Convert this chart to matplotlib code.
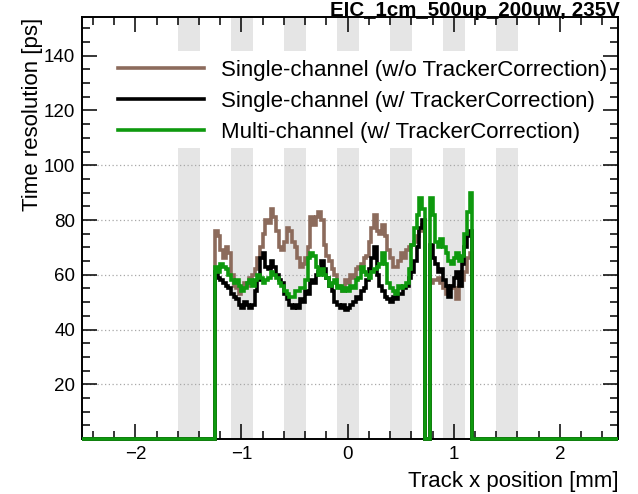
import numpy as np
import matplotlib.pyplot as plt
from matplotlib.patches import Rectangle
from matplotlib.ticker import MultipleLocator

plt.rcParams['font.family'] = ['Liberation Sans', 'DejaVu Sans']

# --- Histogram binning (track x position in mm) ---
X_MIN, X_MAX = -2.5, 2.55
BIN_WIDTH = 0.025
FIRST_BIN = -1.25  # left edge of first filled bin

# Time resolution per bin [ps], starting at FIRST_BIN (0 = empty bin)
single_no_corr = [
    76, 74, 69, 66, 70, 68, 60, 56, 55, 53, 55, 57, 56, 59, 60, 62, 66, 70, 75, 80, 79, 84, 81, 76,
    70, 69, 72, 77, 76, 72, 70, 66, 63, 64, 66, 70, 81, 78, 81, 83, 80, 71, 67, 65, 62, 60, 56, 55, 54, 58, 57,
    60, 59, 62, 63, 64, 66, 67, 72, 77, 82, 76, 75, 78, 74, 69, 66, 63, 63, 65, 68, 66, 69, 70,
    71, 72, 74, 76, 78,
    0, 0,
    57, 58, 58, 59, 57, 55, 53, 56, 55, 55, 51, 56, 58, 61, 66, 68,
]
single_corr = [
    61, 59, 58, 57, 56, 55, 53, 52, 51, 49, 48, 50, 49, 48, 49, 54, 58, 66, 68, 63, 62, 65, 63, 60,
    58, 57, 53, 51, 49, 48, 49, 48, 51, 50, 54, 53, 58, 57, 60, 61, 65, 62, 59, 56, 54, 50, 49, 48, 49, 47, 48,
    49, 50, 52, 51, 54, 55, 58, 62, 66, 70, 60, 56, 54, 52, 51, 50, 52, 51, 53, 53, 55, 56, 59,
    61, 65, 70, 77, 80,
    0, 0,
    71, 66, 64, 61, 62, 58, 56, 52, 56, 59, 61, 56, 64, 70, 74, 76,
]
multi_corr = [
    63, 61, 64, 63, 62, 60, 58, 57, 58, 56, 54, 55, 57, 58, 56, 58, 60, 59, 57, 58, 59, 61, 60, 59,
    57, 56, 54, 53, 52, 52, 54, 54, 55, 55, 58, 66, 68, 67, 63, 60, 62, 60, 59, 56, 57, 58, 55, 56, 54, 55, 54,
    56, 55, 58, 59, 63, 61, 60, 59, 61, 62, 63, 64, 68, 64, 57, 55, 54, 53, 56, 55, 56, 57, 62,
    71, 77, 82, 88, 84,
    0, 0,
    88, 82, 72, 70, 73, 70, 68, 65, 64, 66, 68, 65, 67, 75, 83, 90,
]

labels = [
    "Single-channel (w/o TrackerCorrection)",
    "Single-channel (w/ TrackerCorrection)",
    "Multi-channel (w/ TrackerCorrection)",
]
colors = ["#8c6b5c", "black", "#0e990e"]

# grey stripes (left edge, width in mm)
strip_left = [-1.6, -1.1, -0.6, -0.1, 0.4, 0.9, 1.4]
strip_width = 0.21

x_ticks = [-2, -1, 0, 1, 2]
y_ticks = [20, 40, 60, 80, 100, 120, 140]
Y_MAX = 154

title = "EIC_1cm_500up_200uw, 235V"


def full_hist(values):
    """Pad the filled bins with zeros over the whole x range."""
    n_bins = int(round((X_MAX - X_MIN) / BIN_WIDTH))
    full = np.zeros(n_bins)
    start = int(round((FIRST_BIN - X_MIN) / BIN_WIDTH))
    full[start:start + len(values)] = values
    edges = X_MIN + BIN_WIDTH * np.arange(n_bins + 1)
    return full, edges


fig = plt.figure(figsize=(6.38, 4.94), dpi=100)
ax = fig.add_axes([0.129, 0.111, 0.840, 0.854])

for left in strip_left:
    ax.axvspan(left, left + strip_width, color="#e5e5e5", lw=0, zorder=0.5)

ax.hlines(y_ticks, X_MIN, X_MAX, colors="#a8a8a8", linestyles=(0, (1, 2)),
          lw=0.9, zorder=1)

# white legend area covers stripes and grid
ax.add_patch(Rectangle((0.0, 0.69), 1.0, 0.23, transform=ax.transAxes,
                       facecolor="white", edgecolor="none", zorder=1.2))

for vals, col, lab in zip([single_no_corr, single_corr, multi_corr], colors, labels):
    h, edges = full_hist(vals)
    ax.stairs(h, edges, baseline=None, color=col, lw=2.6, label=lab,
              clip_on=False, zorder=3)

ax.set_xlim(X_MIN, X_MAX)
ax.set_ylim(0, Y_MAX)
ax.set_xticks(x_ticks)
ax.set_yticks(y_ticks)
ax.xaxis.set_minor_locator(MultipleLocator(0.2))
ax.yaxis.set_minor_locator(MultipleLocator(5))
ax.tick_params(which="both", direction="in", top=True, right=True,
               labelsize=13.5, width=1.1)
ax.tick_params(which="major", length=10.5, pad=5)
ax.tick_params(which="minor", length=5.5)
for sp in ax.spines.values():
    sp.set_linewidth(1.4)

ax.set_xlabel("Track x position [mm]", loc="right", fontsize=16, labelpad=6)
ax.set_ylabel("Time resolution [ps]", loc="top", fontsize=16, labelpad=1)

ax.legend(loc="upper left", bbox_to_anchor=(0.066, 0.899), frameon=False,
          fontsize=16, handlelength=3.9, handletextpad=0.75, labelspacing=0.45,
          borderpad=0, borderaxespad=0).set_zorder(5)

fig.text(0.972, 0.9666, title, ha="right", va="baseline", fontsize=14.8,
         fontweight="bold")

fig.savefig("out.png", dpi=100)
